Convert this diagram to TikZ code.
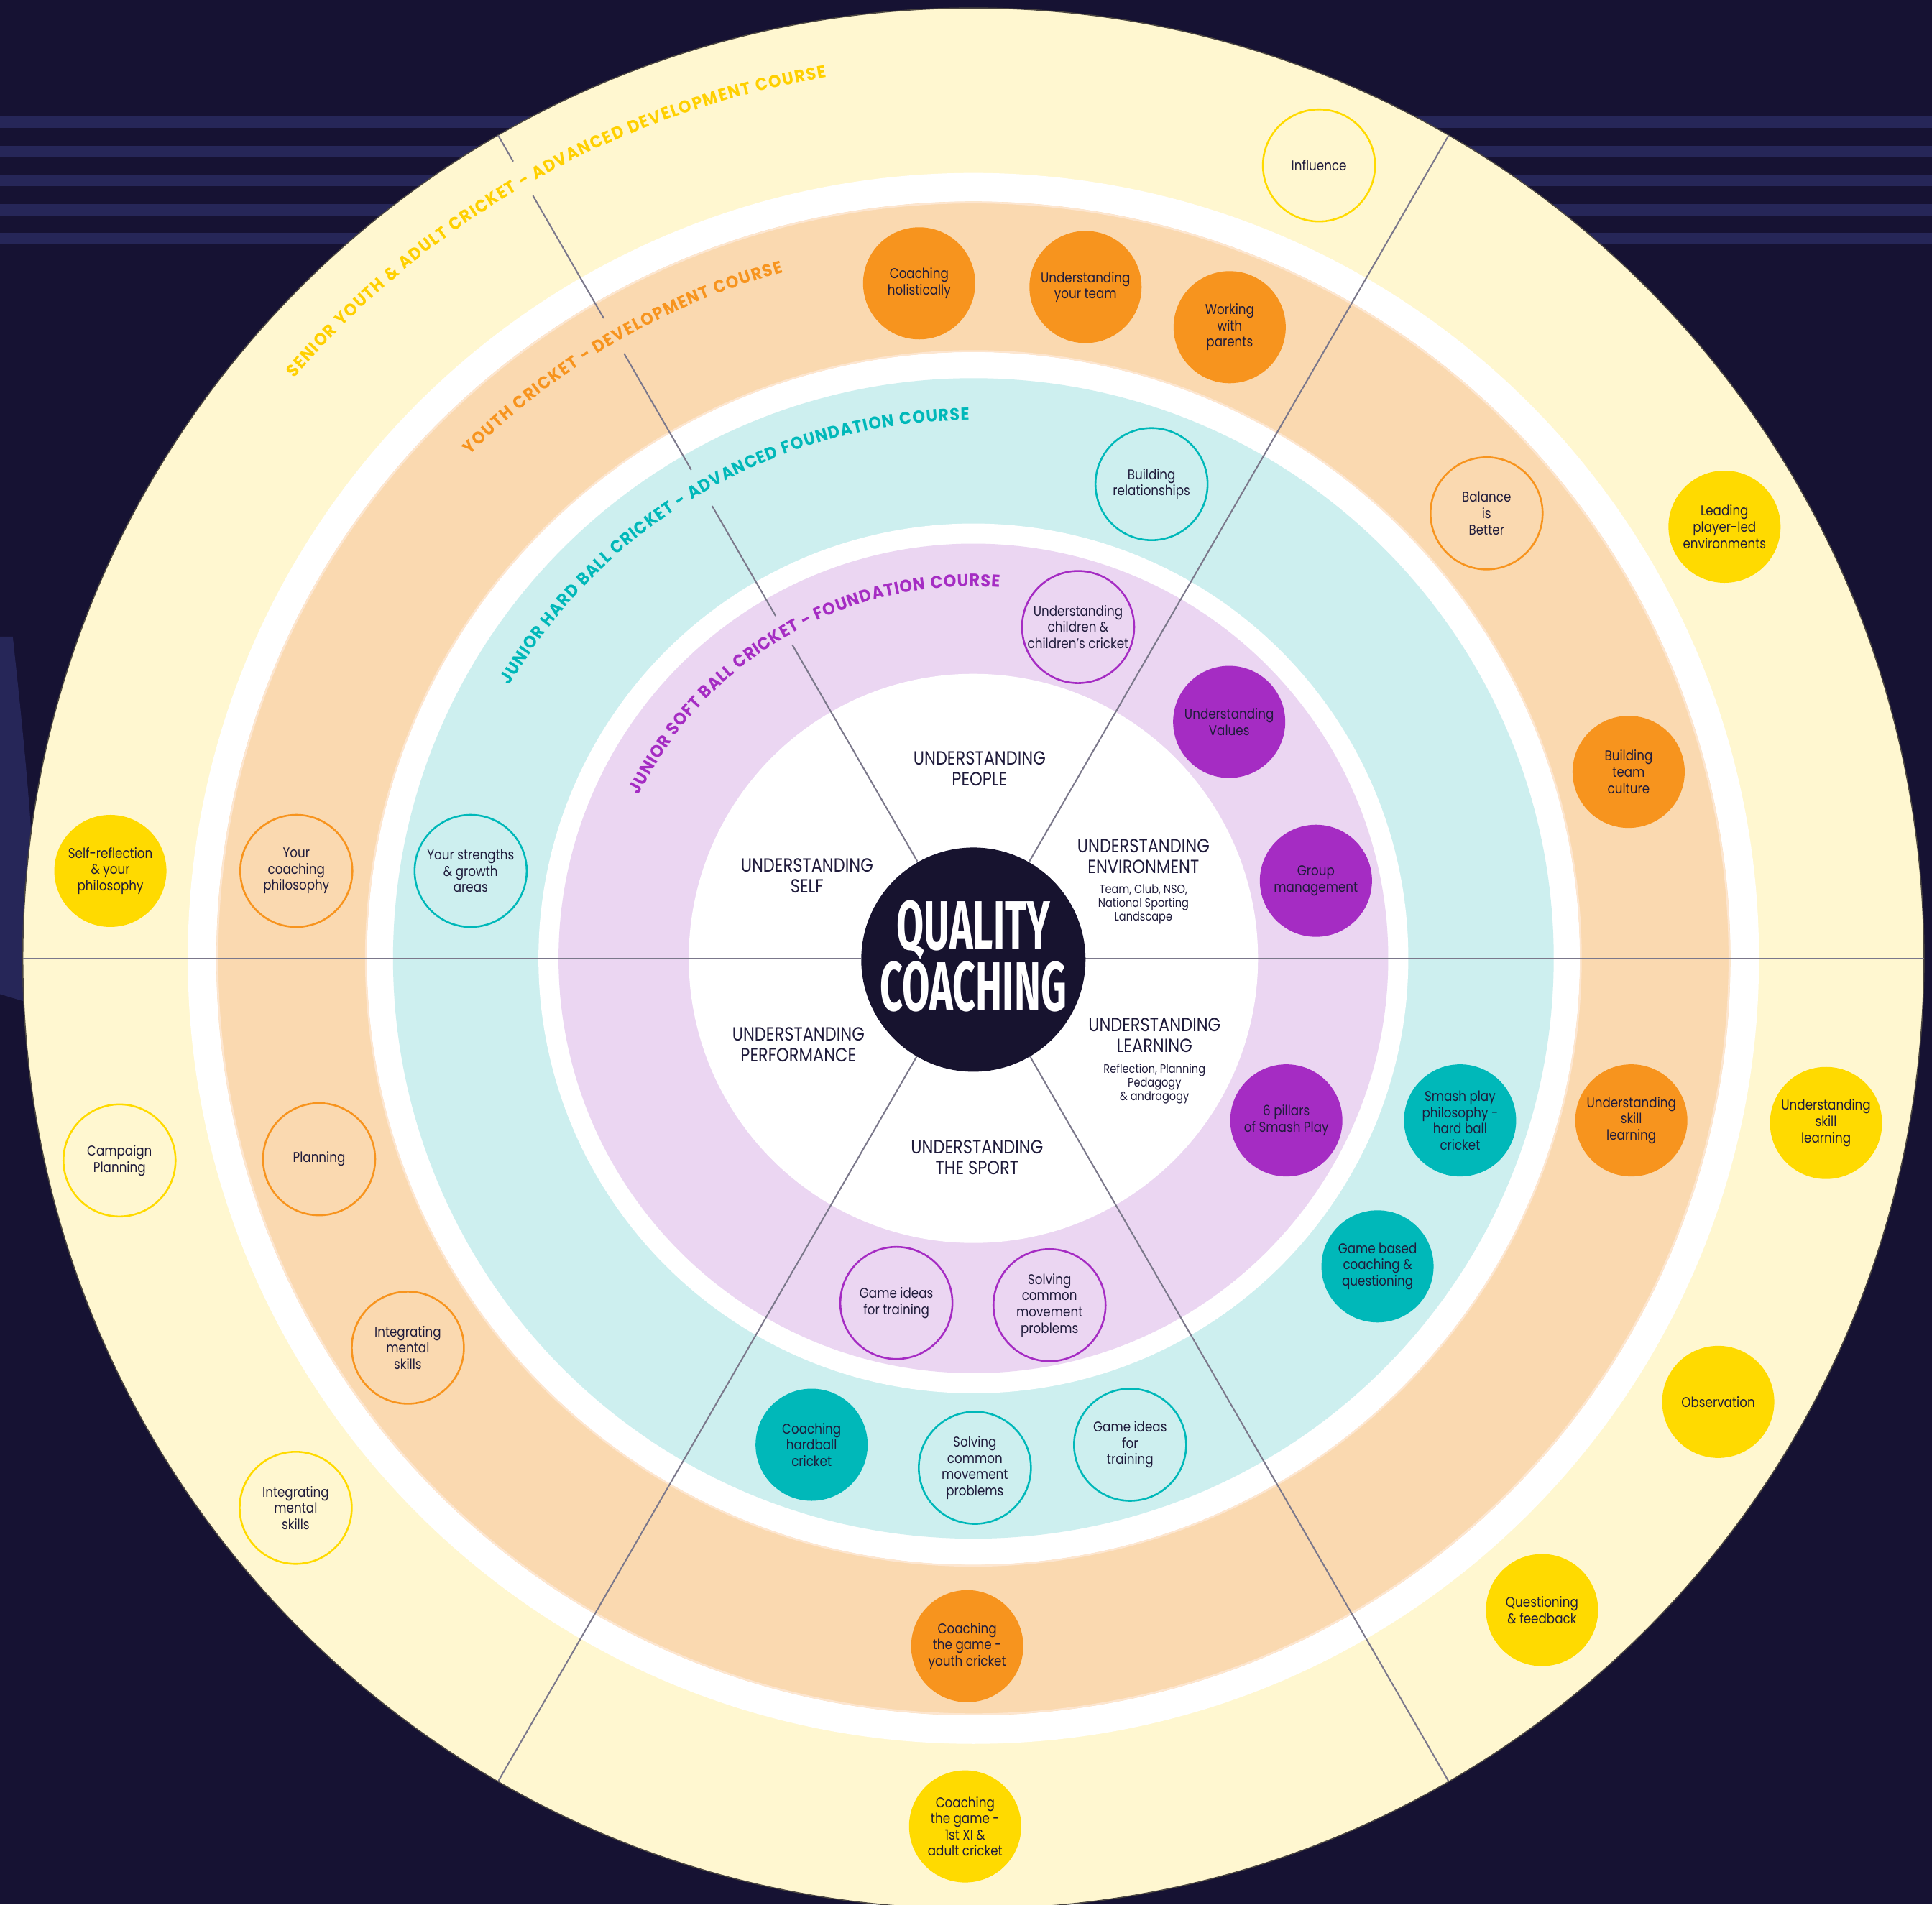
\documentclass[tikz,border=0pt]{standalone}
\usepackage{fontspec}
\usepackage{graphicx}
\setmainfont{Poppins}[FakeStretch=0.85]
\newfontfamily\arcfam{Poppins}[FakeStretch=0.93]
\newfontfamily\qcfont{Fira Sans}
\usetikzlibrary{decorations.text}
\definecolor{bg}{HTML}{161233}
\definecolor{stripe}{HTML}{262658}
\definecolor{lY}{HTML}{FFF7D0}
\definecolor{lO}{HTML}{FAD9B0}
\definecolor{lT}{HTML}{CDEFEF}
\definecolor{lP}{HTML}{EBD6F2}
\definecolor{cY}{HTML}{FFDA00}
\definecolor{cO}{HTML}{F7941E}
\definecolor{cT}{HTML}{00B8B9}
\definecolor{cP}{HTML}{A52CC3}
\definecolor{cSen}{HTML}{FFD000}
\definecolor{ink}{HTML}{1F1B3B}
\definecolor{lineg}{HTML}{7B788B}
\definecolor{navy}{HTML}{17132F}
\definecolor{rimO}{HTML}{FDE6D0}
\newcommand\arctxt{\arcfam\bfseries\fontsize{14}{14}\selectfont}
\begin{document}
\begin{tikzpicture}[x=1pt,y=1pt,
  bub/.style={circle, minimum size=91pt, inner sep=0pt},
  fY/.style={bub, fill=cY}, oY/.style={bub, draw=cY, line width=1.5pt},
  fO/.style={bub, fill=cO}, oO/.style={bub, draw=cO, line width=1.5pt},
  fT/.style={bub, fill=cT}, oT/.style={bub, draw=cT, line width=1.5pt},
  fP/.style={bub, fill=cP}, oP/.style={bub, draw=cP, line width=1.5pt},
  txt/.style={align=center, inner sep=0pt, text=ink, font=\fontsize{11.5}{13.2}\selectfont},
  lab/.style={align=center, inner sep=0pt, text=ink, font=\fontsize{15.5}{17}\selectfont},
  sublab/.style={align=center, inner sep=0pt, text=ink, font=\fontsize{10}{11.1}\selectfont},
  rline/.style={draw=lineg, line width=1.2pt},
  stripebar/.style={fill=stripe}
]
\newcommand\bub[4]{\node[#1] (#2) at (#3) {}; \node[txt] (#2t) at (#2) {#4};}
% background
\useasboundingbox (-790,-768) rectangle (778,778);
\fill[bg] (-790,-768) rectangle (778,778);
\foreach \yy in {678.9,654.95,631.5,607.85,584.35}
  \fill[stripebar] (-790,\yy-4.6) rectangle (778,\yy+4.6);
\fill[stripe] (-790,261.3) -- (-779.6,261.3) .. controls (-774,208) and (-766,138) .. (-762,58) -- (-760,-38) -- (-790,-29) -- cycle;
% rings
\fill[lY, draw={rgb,255:red,74;green,69;blue,64}, line width=0.9pt] (0,0) circle (771.5);
\fill[white] (0,0) circle (637.6);
\fill[lO] (0,0) circle (614.4);
\draw[rimO, line width=1.5pt] (0,0) circle (613.6);
\fill[white] (0,0) circle (492.3);
\draw[rimO, line width=1.5pt] (0,0) circle (493);
\fill[lT] (0,0) circle (471);
\fill[white] (0,0) circle (353);
\fill[lP] (0,0) circle (336.7);
\fill[white] (0,0) circle (231);
% radial lines
\draw[rline] (0:91) -- (0:771.5);
\draw[rline] (180:91) -- (180:771.5);
\draw[rline] (60:91) -- (60:771.5);
\draw[rline] (240:91) -- (240:771.5);
\draw[rline] (300:91) -- (300:771.5);
\draw[rline] (120:91) -- (120:294) (120:321) -- (120:424) (120:458) -- (120:567)
  (120:600) -- (120:715) (120:747) -- (120:771.5);
% arc titles
\path[decorate, decoration={text along path, text align=fit to path, text color=cSen,
  text={|\arctxt|SENIOR YOUTH {\&}  ADULT CRICKET - ADVANCED DEVELOPMENT COURSE}}]
  (139.5:725) arc[start angle=139.5, end angle=99.5, radius=725];
\path[decorate, decoration={text along path, text align=fit to path, text color=cO,
  text={|\arctxt|YOUTH CRICKET - DEVELOPMENT COURSE}}]
  (135:578) arc[start angle=135, end angle=105.5, radius=578];
\path[decorate, decoration={text along path, text align=fit to path, text color=cT,
  text={|\arctxt|JUNIOR HARD BALL CRICKET - ADVANCED FOUNDATION COURSE}}]
  (149.5:437) arc[start angle=149.5, end angle=90.5, radius=437];
\path[decorate, decoration={text along path, text align=fit to path, text color=cP,
  text={|\arctxt|JUNIOR SOFT BALL CRICKET - FOUNDATION COURSE}}]
  (154:302) arc[start angle=154, end angle=86, radius=302];
% yellow ring bubbles
\bub{oY}{influence}{280.5,643.7}{Influence}
\bub{fY}{leading}{609.6,350.4}{Leading\\player-led\\environments}
\bub{fY}{selfref}{-700.4,71}{Self-reflection\\\& your\\philosophy}
\bub{oY}{campaign}{-693,-164}{Campaign\\Planning}
\bub{oY}{mentalY}{-550,-446}{Integrating\\mental\\skills}
\bub{fY}{firstxi}{-6.7,-704.6}{Coaching\\the game -\\1st XI \&\\adult cricket}
\bub{fY}{question}{461.5,-529}{Questioning\\\& feedback}
\bub{fY}{observe}{604.5,-360}{Observation}
\bub{fY}{skillY}{692,-133.6}{Understanding\\skill\\learning}
% orange ring bubbles
\bub{fO}{holist}{-44,548}{Coaching\\holistically}
\bub{fO}{yourteam}{91,545}{Understanding\\your team}
\bub{fO}{parents}{208,512.4}{Working\\with\\parents}
\bub{oO}{balance}{416.5,361.3}{Balance\\is\\Better}
\bub{fO}{culture}{531.8,151.4}{Building\\team\\culture}
\bub{fO}{skillO}{534,-131.5}{Understanding\\skill\\learning}
\bub{fO}{youthgame}{-5,-558.3}{Coaching\\the game -\\youth cricket}
\bub{oO}{mentalO}{-459,-316}{Integrating\\mental\\skills}
\bub{oO}{planning}{-531,-163}{Planning}
\bub{oO}{philos}{-549.5,71}{Your\\coaching\\philosophy}
% teal ring bubbles
\bub{oT}{relation}{144.6,385}{Building\\relationships}
\bub{oT}{strength}{-408,71}{Your strengths\\\& growth\\areas}
\bub{fT}{smash}{395,-131.5}{Smash play\\philosophy -\\hard ball\\cricket}
\bub{fT}{gamebased}{328,-250}{Game based\\coaching \&\\questioning}
\bub{oT}{ideasT}{127.2,-394.8}{Game ideas\\for\\training}
\bub{oT}{solveT}{1.2,-413.5}{Solving\\common\\movement\\problems}
\bub{fT}{hardball}{-131.3,-394.8}{Coaching\\hardball\\cricket}
% purple ring bubbles
\bub{oP}{children}{85,269}{Understanding\\children \&\\children’s cricket}
\bub{fP}{values}{207.6,192}{Understanding\\Values}
\bub{fP}{group}{278,63}{Group\\management}
\bub{fP}{pillars}{254,-131.5}{6 pillars\\of Smash Play}
\bub{oP}{solveP}{61.8,-281.5}{Solving\\common\\movement\\problems}
\bub{oP}{ideasP}{-62.5,-279.7}{Game ideas\\for training}
% centre labels
\node[lab] (people) at (5,154) {UNDERSTANDING\\PEOPLE};
\node[lab] (self) at (-135,67) {UNDERSTANDING\\SELF};
\node[lab] (env) at (138,83) {UNDERSTANDING\\ENVIRONMENT};
\node[sublab] (envsub) at (138,43.8) {Team, Club, NSO,\\National Sporting\\Landscape};
\node[lab] (perf) at (-142,-69.8) {UNDERSTANDING\\PERFORMANCE};
\node[lab] (learn) at (147,-62.5) {UNDERSTANDING\\LEARNING};
\node[sublab] (learnsub) at (147,-101.8) {Reflection, Planning\\Pedagogy\\\& andragogy};
\node[lab] (sport) at (3,-161.7) {UNDERSTANDING\\THE SPORT};
% core
\node[circle, fill=navy, minimum size=182pt, inner sep=0pt] (core) at (0,-1) {};
\node[anchor=base, inner sep=0pt, text=white] (quality) at (0,7.2)
  {\resizebox{124.4pt}{40pt}{\qcfont\bfseries QUALITY}};
\node[anchor=base, inner sep=0pt, text=white] (coaching) at (0,-42.2)
  {\resizebox{151.3pt}{40pt}{\qcfont\bfseries COACHING}};
\end{tikzpicture}
\end{document}
